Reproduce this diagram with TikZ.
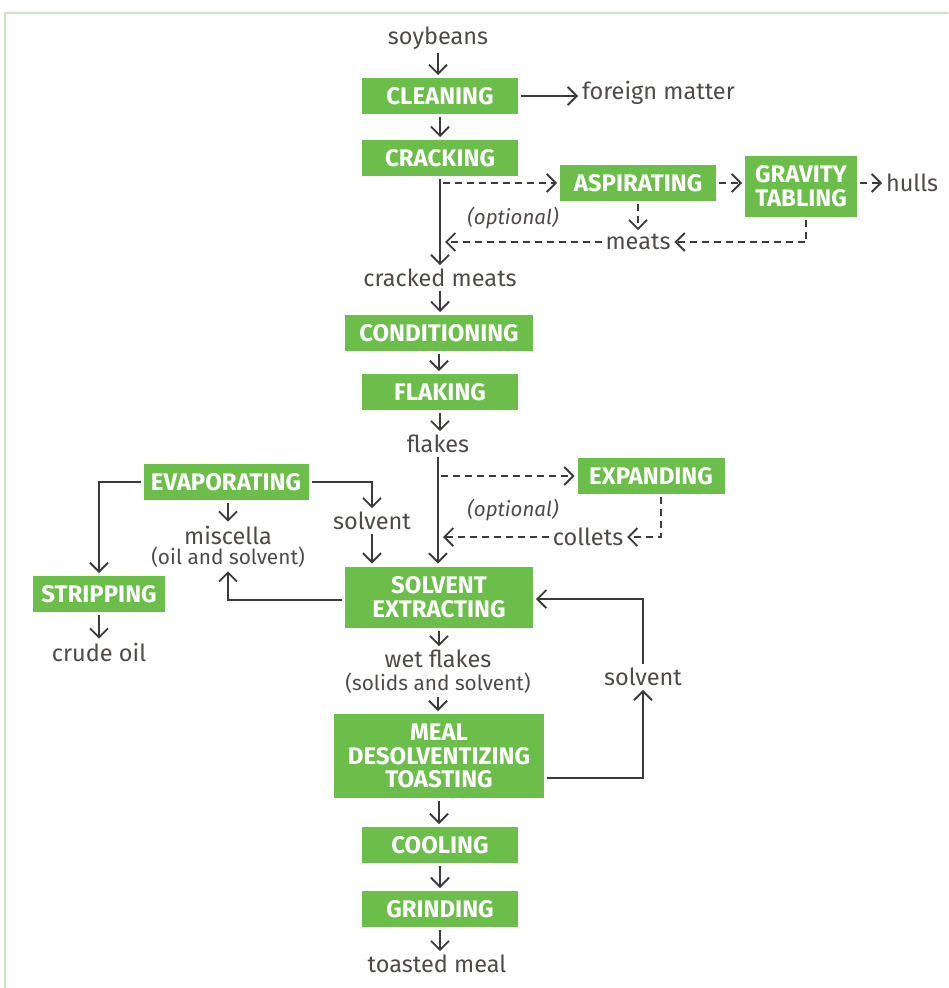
\documentclass[tikz,border=0pt]{standalone}
\usepackage{fontspec}
\setmainfont{Fira Sans}
\usetikzlibrary{arrows.meta,calc}
\definecolor{boxgreen}{RGB}{108,190,75}
\definecolor{txt}{RGB}{78,74,72}
\definecolor{framec}{RGB}{200,228,186}
\definecolor{ln}{RGB}{62,58,56}
\begin{document}
\begin{tikzpicture}[x=1pt,y=-1pt,
  proc/.style={fill=boxgreen, text=white, font=\fontsize{24}{23.5}\selectfont\bfseries, align=center, inner sep=0pt, minimum height=36pt, minimum width=156pt, outer sep=3pt},
  lbl/.style={text=txt, font=\fontsize{23.5}{25}\selectfont, inner sep=0pt, outer sep=4pt},
  sublbl/.style={text=txt, font=\fontsize{20.8}{22}\selectfont, inner sep=0pt, outer sep=4pt},
  optl/.style={text=txt, font=\fontsize{20.5}{22}\selectfont\itshape, inner sep=0pt},
  flow/.style={draw=ln, line width=1.8pt, -{Straight Barb[length=9pt,width=18pt,line width=1.8pt]}},
  opt/.style={flow, dash pattern=on 7pt off 5pt},
  plain/.style={draw=ln, line width=1.8pt}
]
\useasboundingbox (0,0) rectangle (948,988);
\draw[framec, line width=2pt] (5,988) -- (5,13) -- (948,13);

% main column
\node[lbl] (soy) at (438,38) {soybeans};
\node[proc] (clean) at (440,96) {CLEANING};
\node[lbl, anchor=west] (foreign) at (578,93) {foreign matter};
\node[proc] (crack) at (440,158) {CRACKING};
\node[proc, minimum width=156pt] (asp) at (638,183) {ASPIRATING};
\node[proc, minimum width=112pt, minimum height=61pt] (grav) at (801,186) {GRAVITY\\TABLING};
\node[lbl, anchor=west] (hulls) at (882,183) {hulls};
\node[lbl] (meats) at (638,242) {meats};
\node[optl] (opt1) at (513,218) {(optional)};
\node[lbl] (cracked) at (440,278) {cracked meats};
\node[proc, minimum width=188pt] (cond) at (439,333) {CONDITIONING};
\node[proc] (flak) at (440,392) {FLAKING};
\node[lbl] (flakes) at (438,444) {flakes};
\node[proc, minimum width=147pt] (exp) at (651,476) {EXPANDING};
\node[optl] (opt2) at (513,510) {(optional)};
\node[lbl] (collets) at (588,537) {collets};
\node[proc, minimum width=188pt, minimum height=61pt] (se) at (439,597) {SOLVENT\\EXTRACTING};
\node[proc, minimum width=165pt] (evap) at (226,482) {EVAPORATING};
\node[lbl] (misc) at (228,535) {miscella};
\node[sublbl] (oilsolv) at (228,557) {(oil and solvent)};
\node[lbl] (solv1) at (372,521) {solvent};
\node[proc, minimum width=132pt] (strip) at (99,594) {STRIPPING};
\node[lbl] (crude) at (99,652) {crude oil};
\node[lbl] (wet) at (438,659) {wet flakes};
\node[sublbl] (wetsub) at (438,683) {(solids and solvent)};
\node[proc, minimum width=210pt, minimum height=84pt] (mdt) at (439,756) {MEAL\\DESOLVENTIZING\\TOASTING};
\node[lbl] (solv2) at (643,677) {solvent};
\node[proc] (cool) at (440,845) {COOLING};
\node[proc] (grind) at (440,909) {GRINDING};
\node[lbl] (toast) at (437,964) {toasted meal};

% connectors
\draw[flow] (soy) -- (soy |- clean.north);
\draw[flow] (clean.east) -- (clean.east -| foreign.west);
\draw[flow] (clean) -- (clean |- crack.north);
\draw[flow] (crack.south) -- (crack |- cracked.north);
\draw[opt] ($(crack.south |- asp.west)+(3,0)$) -- (asp.west);
\draw[opt] (asp.east) -- (grav.west |- asp.east);
\draw[opt] (grav.east |- hulls.west) -- (hulls.west);
\draw[opt] (asp.south) -- (meats.north);
\coordinate (gb) at ($(grav.south)+(5,0)$);
\draw[opt] (gb) |- (meats.east);
\draw[opt] (meats.west) -- ($(meats.west -| crack.south)+(5,0)$);
\draw[flow] (cracked) -- (cracked |- cond.north);
\draw[flow] (cond) -- (cond |- flak.north);
\draw[flow] (flak) -- (flak |- flakes.north);
\draw[flow] (flakes.south) -- (flakes |- se.north);
\draw[opt] ($(flakes.south |- exp.west)+(3,0)$) -- (exp.west);
\coordinate (eb) at ($(exp.south)+(10,0)$);
\draw[opt] (eb) |- (collets.east);
\draw[opt] (collets.west) -- ($(collets.west -| flakes.south)+(5,0)$);
\draw[flow] (evap.west) -| (strip.north);
\draw[flow] (evap.east) -| (solv1.north);
\draw[flow] (evap.south -| misc) -- (misc.north);
\draw[flow] (solv1.south) -- (solv1 |- se.north);
\draw[flow] ($(se.west)+(0,3)$) -| (oilsolv.south);
\draw[flow] (strip.south) -- (crude.north);
\draw[flow] (se.south) -- (se |- wet.north);
\draw[flow] (wetsub.south) -- (wetsub |- mdt.north);
\draw[flow] ($(mdt.east)+(0,22)$) -| (solv2.south);
\draw[flow] (solv2.north) |- ($(se.east)+(0,2)$);
\draw[flow] (mdt.south) -- (mdt |- cool.north);
\draw[flow] (cool) -- (cool |- grind.north);
\draw[flow] (grind.south) -- (grind |- toast.north);
\end{tikzpicture}
\end{document}
